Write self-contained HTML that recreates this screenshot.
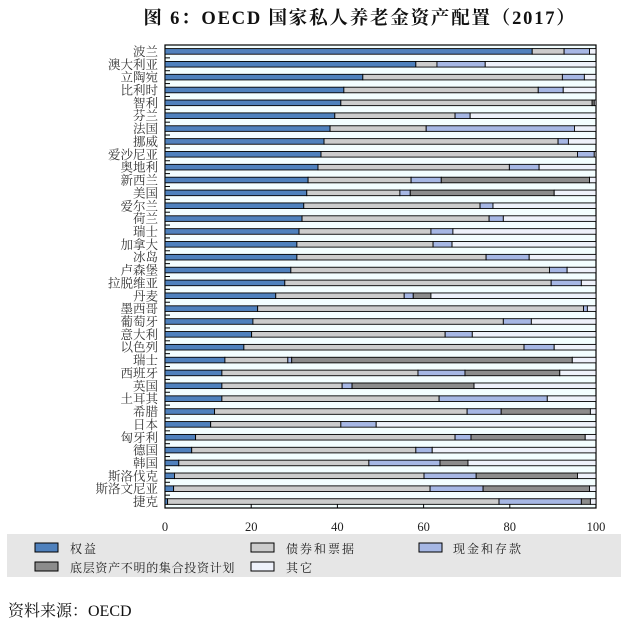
<!DOCTYPE html>
<html><head><meta charset="utf-8">
<style>
html,body{margin:0;padding:0;background:#fff;}
body{width:621px;height:628px;position:relative;overflow:hidden;font-family:"Liberation Serif","Noto Serif CJK SC",serif;}
svg text{font-family:"Liberation Serif","Noto Serif CJK SC",serif;}
</style></head>
<body>
<svg id="chart" width="621" height="628" xmlns="http://www.w3.org/2000/svg">
<text x="360" y="24" text-anchor="middle" font-size="18.5" font-weight="bold" letter-spacing="1.8" fill="#111">图 6：OECD 国家私人养老金资产配置（2017）</text>
<rect x="165" y="45" width="431" height="463" fill="#F3FEFF" stroke="#000" stroke-width="1.2"/>
<g id="bars"></g>
<g id="axes"></g>
<rect x="7" y="534" width="614" height="43" fill="#E6E6E6"/>
<g><rect x="35" y="543" width="23" height="9" fill="#4F81BD" stroke="#000"/><text x="70" y="553" font-size="12" letter-spacing="2" fill="#222">权益</text></g>
<g><rect x="251" y="543" width="23" height="9" fill="#CCCCCC" stroke="#000"/><text x="286" y="553" font-size="12" letter-spacing="2" fill="#222">债券和票据</text></g>
<g><rect x="419" y="543" width="23" height="9" fill="#A6B7E4" stroke="#000"/><text x="453" y="553" font-size="12" letter-spacing="2" fill="#222">现金和存款</text></g>
<g><rect x="35" y="562" width="23" height="9" fill="#8C8C8C" stroke="#000"/><text x="70" y="572" font-size="12" letter-spacing="0.7" fill="#222">底层资产不明的集合投资计划</text></g>
<g><rect x="251" y="562" width="23" height="9" fill="#EEF1FA" stroke="#000"/><text x="286" y="572" font-size="12" letter-spacing="2" fill="#222">其它</text></g>
<text x="8" y="616" font-size="16" fill="#111">资料来源：OECD</text>
</svg>
<script>
const countries=["波兰","澳大利亚","立陶宛","比利时","智利","芬兰","法国","挪威","爱沙尼亚","奥地利","新西兰","美国","爱尔兰","荷兰","瑞士","加拿大","冰岛","卢森堡","拉脱维亚","丹麦","墨西哥","葡萄牙","意大利","以色列","瑞士","西班牙","英国","土耳其","希腊","日本","匈牙利","德国","韩国","斯洛伐克","斯洛文尼亚","捷克"];
const equity=[85.2,58.2,45.9,41.5,40.8,39.4,38.3,36.9,36.2,35.5,33.2,32.9,32.2,31.8,31.1,30.6,30.6,29.2,27.8,25.7,21.5,20.4,20.1,18.3,13.9,13.2,13.2,13.2,11.5,10.6,7.1,6.2,3.2,2.2,2.0,0.6];
const bonds=[7.4,4.9,46.3,45.1,58.3,27.9,22.3,54.3,59.5,44.4,23.9,21.6,40.9,43.4,30.6,31.6,43.9,60.0,61.8,29.8,75.6,58.1,44.9,65.0,14.6,45.5,27.9,50.4,58.6,30.2,60.2,52.0,44.1,57.9,59.5,76.9];
const cash=[5.9,11.2,5.1,5.8,0,3.5,34.4,2.4,3.9,6.9,7.0,2.4,3.0,3.3,5.1,4.4,10.0,4.1,7.0,2.1,0.9,6.5,6.3,7.0,0.9,10.9,2.3,25.1,7.9,8.2,3.7,3.8,16.5,12.1,12.3,19.1];
const cis=[0,0,0,0,0.5,0,0,0,0,0,34.4,33.4,0,0,0,0,0,0,0,4.1,0,0,0,0,65.1,22.0,28.3,0,20.7,0,26.5,0,6.5,23.5,24.7,2.1];
const other=[1.5,25.7,2.7,7.6,0.4,29.2,5.0,6.4,0.4,13.2,1.5,9.7,23.9,21.5,33.2,33.4,15.5,6.7,3.4,38.3,2.0,15.0,28.7,9.7,5.5,8.4,28.3,11.3,1.3,51.0,2.5,38.0,29.7,4.3,1.5,1.3];
const xTicks=[0,20,40,60,80,100];
const NS="http://www.w3.org/2000/svg";
const X0=165,X1=596,Y0=45,Y1=508;
const xs=v=>X0+(X1-X0)*v/100;
const slot=(Y1-Y0)/countries.length;
const ys=i=>Y0+slot*i;
const series=[["equity",equity,"#4F81BD"],["bonds",bonds,"#CCCCCC"],["cash",cash,"#A6B7E4"],["cis",cis,"#8C8C8C"],["other",other,"#EEF1FA"]];
const bars=document.getElementById('bars'),axes=document.getElementById('axes');
countries.forEach((c,i)=>{
  let cum=0;
  const y=ys(i)+3.6,h=5.6;
  series.forEach(([nm,arr,col])=>{
    const v=arr[i];
    if(v>0){
      const r=document.createElementNS(NS,'rect');
      r.setAttribute('x',xs(cum));r.setAttribute('y',y);
      r.setAttribute('width',xs(cum+v)-xs(cum));r.setAttribute('height',h);
      r.setAttribute('fill',col);r.setAttribute('stroke','#000');r.setAttribute('stroke-width','0.9');
      
      
      bars.appendChild(r);
    }
    cum+=v;
  });
  const t=document.createElementNS(NS,'text');
  t.setAttribute('x',158);t.setAttribute('y',ys(i)+slot/2+4.5);
  t.setAttribute('text-anchor','end');t.setAttribute('font-size','12.5');t.setAttribute('fill','#333');
  t.textContent=c;
  
  
  axes.appendChild(t);
  if(i>0){
    const l=document.createElementNS(NS,'line');
    l.setAttribute('x1',X0);l.setAttribute('x2',X0+5);l.setAttribute('y1',ys(i));l.setAttribute('y2',ys(i));
    l.setAttribute('stroke','#000');
    
    
    axes.appendChild(l);
  }
});
xTicks.forEach(v=>{
  const l=document.createElementNS(NS,'line');
  l.setAttribute('x1',xs(v));l.setAttribute('x2',xs(v));l.setAttribute('y1',Y1);l.setAttribute('y2',Y1-4);
  l.setAttribute('stroke','#000');
  
  
  axes.appendChild(l);
  const t=document.createElementNS(NS,'text');
  t.setAttribute('x',xs(v));t.setAttribute('y',531);t.setAttribute('text-anchor','middle');
  t.setAttribute('font-size','12.5');t.setAttribute('fill','#222');
  t.textContent=v;
  
  
  axes.appendChild(t);
});
</script>
</body></html>
